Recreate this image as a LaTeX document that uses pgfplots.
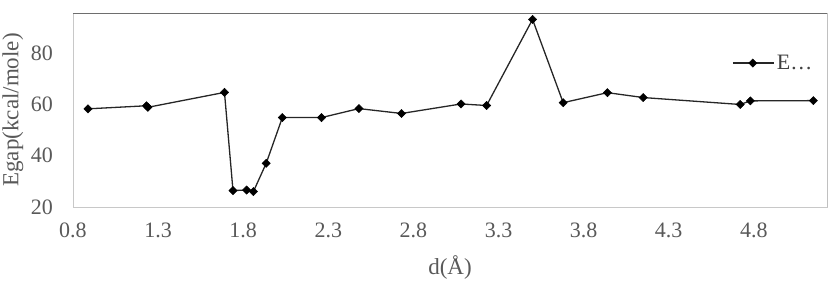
\documentclass[border=0pt]{standalone}
\usepackage{fontspec}
\setmainfont{Liberation Serif}
\usepackage{pgfplots}
\pgfplotsset{compat=1.18}
\definecolor{txt}{HTML}{595959}
\definecolor{frame}{HTML}{C8C8C8}
\definecolor{frametop}{HTML}{6E6E6E}
\definecolor{frameright}{HTML}{8C8C8C}
\begin{document}
\begin{tikzpicture}
\path[use as bounding box] (-73pt,-78pt) rectangle (758pt,207pt);
\begin{axis}[
  scale only axis,
  width=754pt, height=194pt,
  xmin=0.8, xmax=5.23, ymin=20, ymax=95.5,
  xtick={0.8,1.3,1.8,2.3,2.8,3.3,3.8,4.3,4.8},
  xticklabels={0.8,1.3,1.8,2.3,2.8,3.3,3.8,4.3,4.8},
  ytick={20,40,60,80},
  yticklabels={20,40,60,80},
  major tick length=0pt,
  axis line style={frame, line width=0.8pt},
  tick label style={font=\fontsize{22}{26}\selectfont, text=txt},
  xticklabel style={inner sep=0pt, anchor=north, yshift=-16pt},
  yticklabel style={inner sep=0pt, anchor=east, xshift=-20pt},
  every axis y label/.style={at={(axis description cs:-0.0796,0.5)}, rotate=90, anchor=center, font=\fontsize{23}{27}\selectfont, text=txt},
  every axis x label/.style={at={(axis description cs:0.5,-0.314)}, anchor=center, font=\fontsize{23}{27}\selectfont, text=txt},
  xlabel={d(Å)},
  ylabel={Egap(kcal/mole)},
  legend style={draw=none, fill=none, at={(axis description cs:0.874,0.742)}, anchor=west, inner sep=0pt, font=\fontsize{22}{26}\selectfont, text=black!75, nodes={inner sep=2.5pt}},
  legend image code/.code={\draw[mark repeat=2,mark phase=2,#1] plot coordinates {(0pt,0pt) (20pt,0pt) (41pt,0pt)};},
]
\addplot[black!85, line width=1.3pt, mark=square*, mark size=2.9pt, mark options={rotate=45, fill=black, draw=black, line width=0.5pt}] coordinates {
(0.888,58.2)
(1.232,59.4)
(1.240,58.8)
(1.69,64.6)
(1.74,26.4)
(1.82,26.6)
(1.86,26.0)
(1.935,37.0)
(2.03,54.8)
(2.26,54.8)
(2.48,58.3)
(2.73,56.4)
(3.08,60.1)
(3.23,59.5)
(3.50,93.0)
(3.68,60.6)
(3.94,64.5)
(4.15,62.6)
(4.72,59.9)
(4.78,61.3)
(5.15,61.4)
};
\addlegendentry{E\ldots}
\draw[frametop, line width=1pt] (axis description cs:0,1) -- (axis description cs:1,1);
\draw[frameright, line width=1pt] (axis description cs:1,0) -- (axis description cs:1,1);
\end{axis}
\end{tikzpicture}
\end{document}
